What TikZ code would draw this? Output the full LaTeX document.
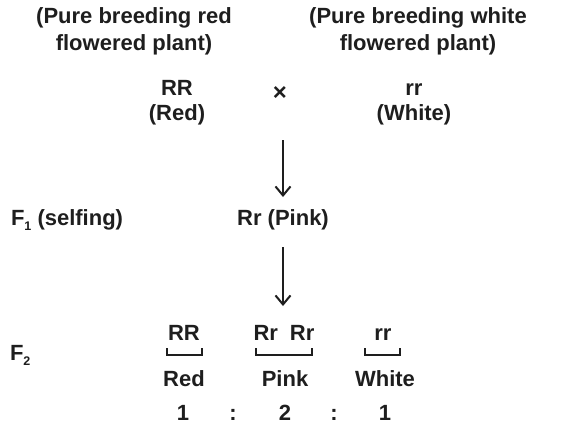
\documentclass[tikz,border=0pt]{standalone}
\usepackage{fontspec}
\setmainfont{Liberation Sans}
\usetikzlibrary{arrows.meta}
\definecolor{ink}{HTML}{1E1E1E}
\newcommand{\lowsub}[1]{\raisebox{-4.5pt}{\fontsize{12.5}{12.5}\selectfont #1}}
\begin{document}
\begin{tikzpicture}[x=1pt,y=-1pt,
  lbl/.style={inner sep=0pt,outer sep=0pt,text=ink,font=\bfseries\fontsize{22}{27}\selectfont,align=center},
  one/.style={lbl,text height=16pt,text depth=5pt},
  conn/.style={draw=ink,line width=2.4pt,-{Straight Barb[length=9pt,width=15pt,line width=2pt]}},
  brk/.style={draw=ink,line width=2.2pt}]
\useasboundingbox (0,0) rectangle (563,434);
\node[lbl] (p1) at (134,31) {(Pure breeding red\\flowered plant)};
\node[lbl] (p2) at (418,31) {(Pure breeding white\\flowered plant)};
\node[one] (RR) at (177,90) {RR};
\node[one] (Red) at (177,115) {(Red)};
\node[lbl] (x) at (280,94) {\fontsize{24}{24}\selectfont ×};
\node[one] (rr) at (414,90) {rr};
\node[one] (White) at (414,115) {(White)};
\coordinate (a1s) at (283,140);
\coordinate (a1e) at (283,197);
\node[one,anchor=west] (F1) at (11,220) {F\lowsub{1} (selfing)};
\node[one] (Rr) at (283,220) {Rr (Pink)};
\draw[conn] (a1s) -- (a1e);
\coordinate (a2s) at (283,247);
\coordinate (a2e) at (283,306);
\draw[conn] (a2s) -- (a2e);
\node[one,anchor=west] (F2) at (10,355) {F\lowsub{2}};
\node[one] (g1) at (184,335) {RR};
\node[one] (g2) at (284,335) {Rr\hspace{12pt}Rr};
\node[one] (g3) at (383,335) {rr};
\draw[brk] (167,348) -- (167,355) -- (202,355) -- (202,348);
\draw[brk] (256,348) -- (256,355) -- (312,355) -- (312,348);
\draw[brk] (365,348) -- (365,355) -- (400,355) -- (400,348);
\node[one] (c1) at (184,381) {Red};
\node[one] (c2) at (285,381) {Pink};
\node[one] (c3) at (385,381) {White};
\node[one] (n1) at (183,415) {1};
\node[one] (k1) at (233,415) {:};
\node[one] (n2) at (285,415) {2};
\node[one] (k2) at (334,415) {:};
\node[one] (n3) at (385,415) {1};
\end{tikzpicture}
\end{document}
